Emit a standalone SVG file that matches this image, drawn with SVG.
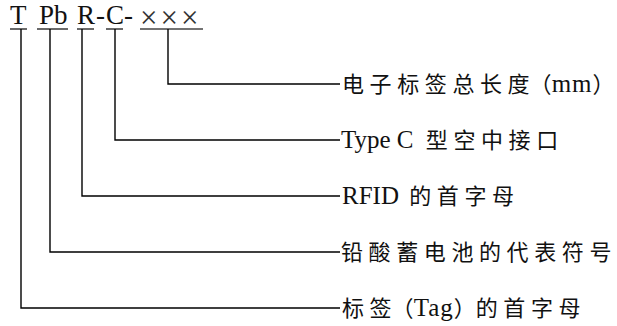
<svg xmlns="http://www.w3.org/2000/svg" width="617" height="326" viewBox="0 0 617 326">
<style>
.code{font-family:"Liberation Serif","Noto Sans CJK SC",serif;font-size:27px;fill:#111}
.lbl{font-family:"Liberation Serif","Noto Sans CJK SC",serif;font-size:22px;fill:#111}
.cj{letter-spacing:5.6px}
.la{font-size:25px;letter-spacing:0.5px}
.ul{stroke:#444;stroke-width:1.6;fill:none}
.con{stroke:#000;stroke-width:1.4;fill:none}
</style>
<rect width="617" height="326" fill="#fff"/>
<g id="code-T"><text class="code" x="10" y="24">T</text><line class="ul" x1="10" y1="29" x2="27" y2="29"/></g>
<g id="code-Pb"><text class="code" x="39" y="24">Pb</text><line class="ul" x1="37" y1="29" x2="68" y2="29"/></g>
<g id="code-R"><text class="code" x="77" y="24">R</text><text class="code" x="96" y="24">-</text><line class="ul" x1="77" y1="29" x2="94" y2="29"/></g>
<g id="code-C"><text class="code" x="106" y="24">C</text><text class="code" x="124" y="24">-</text><line class="ul" x1="106" y1="29" x2="123" y2="29"/></g>
<g id="code-X"><text class="code" x="140" y="28" style="font-size:31px;letter-spacing:3px;fill:#333">×××</text><line class="ul" x1="140" y1="29" x2="203" y2="29"/></g>
<g id="connectors">
<polyline class="con" points="168,29 168,84 340,84"/>
<polyline class="con" points="115,29 115,140 340,140"/>
<polyline class="con" points="82,29 82,196 340,196"/>
<polyline class="con" points="50,29 50,252 340,252"/>
<polyline class="con" points="21,29 21,308 340,308"/>
</g>
<g id="label-length"><text class="lbl" x="342" y="92"><tspan class="cj">电子标签总长</tspan><tspan>度（</tspan><tspan class="la" style="letter-spacing:1px">mm</tspan><tspan>）</tspan></text></g>
<g id="label-typec"><text class="lbl" x="341" y="148"><tspan class="la" style="letter-spacing:0">Type C </tspan><tspan class="cj" dx="6">型空中接口</tspan></text></g>
<g id="label-rfid"><text class="lbl" x="342" y="204"><tspan class="la" style="letter-spacing:0">RFID </tspan><tspan class="cj" dx="4">的首字母</tspan></text></g>
<g id="label-pb"><text class="lbl" x="341" y="260"><tspan class="cj">铅酸蓄电池的代表符</tspan><tspan>号</tspan></text></g>
<g id="label-tag"><text class="lbl" x="342" y="316"><tspan class="cj">标</tspan><tspan>签（</tspan><tspan class="la" style="letter-spacing:1px">Tag</tspan><tspan>）</tspan><tspan class="cj">的首字母</tspan></text></g>
</svg>
